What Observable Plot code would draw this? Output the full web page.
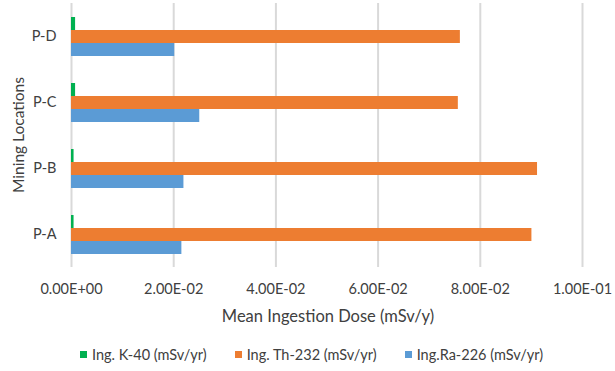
<!DOCTYPE html>
<html><head><meta charset="utf-8">
<script src="https://cdn.jsdelivr.net/npm/d3@7"></script>
<script src="https://cdn.jsdelivr.net/npm/@observablehq/plot@0.6"></script>
<style>
body{margin:0;background:#fff;font-family:Lato,sans-serif;}
#legend{display:flex;justify-content:center;align-items:center;gap:28px;margin-top:14px;font-size:14.5px;color:#404040;padding-left:8px;}
#legend .item{display:flex;align-items:center;gap:5px;}
#legend .sw{width:7px;height:7px;display:inline-block;}
</style></head><body><div id="chart"></div><div id="legend"></div><script>
const locations = ["P-D","P-C","P-B","P-A"];
const series = ["Ing. K-40 (mSv/yr)","Ing. Th-232 (mSv/yr)","Ing.Ra-226 (mSv/yr)"];
const k40 = [0.0008,0.0008,0.0005,0.0005];
const th232 = [0.0761,0.0757,0.0912,0.0901];
const ra226 = [0.0202,0.0251,0.0220,0.0216];
const colors = ["#00B050","#ED7D31","#5B9BD5"];
const xTicks = [0,0.02,0.04,0.06,0.08,0.10];
const xTitle = "Mean Ingestion Dose (mSv/y)";
const yTitle = "Mining Locations";

const values = [k40, th232, ra226];
const rows = [];
locations.forEach((loc,i)=>series.forEach((s,j)=>rows.push({location:loc, series:s, value:values[j][i]})));

function fmt(d){
  const [m,e] = d.toExponential(2).split("e");
  const sign = e[0]==="-" ? "-" : "+";
  const digits = e.replace(/[+-]/,"").padStart(2,"0");
  return m + "E" + sign + digits;
}

const chart = Plot.plot({
  width:615, height:332,
  marginLeft:71, marginRight:33, marginTop:2, marginBottom:65,
  style:{fontFamily:"Lato, sans-serif", fontSize:"14.5px", color:"#404040", background:"#fff"},
  x:{domain:[0,0.1], ticks:xTicks, tickFormat:fmt, tickSize:0, tickPadding:16, label:null},
  y:{domain:series, axis:null, paddingInner:0.03, paddingOuter:0.95},
  fy:{domain:locations, padding:0, label:null, tickSize:0, tickPadding:15},
  color:{domain:series, range:colors},
  marks:[
    Plot.ruleX(xTicks, {stroke:"#d9d9d9", strokeWidth:2}),
    Plot.barX(rows, {x:"value", y:"series", fy:"location", fill:"series"})
  ]
});
document.getElementById("chart").appendChild(chart);

// axis titles as SVG text
const svg = d3.select(chart);
svg.append("text").attr("x", 328).attr("y", 318).attr("text-anchor","middle").attr("dominant-baseline","middle")
  .attr("font-size","16.5px").attr("fill","#404040").text(xTitle);
svg.append("text").attr("transform","translate(20,135) rotate(-90)").attr("text-anchor","middle").attr("dominant-baseline","middle")
  .attr("font-size","15.5px").attr("fill","#404040").text(yTitle);

const leg = document.getElementById("legend");
series.forEach((s,j)=>{
  const it = document.createElement("div"); it.className="item";
  const sw = document.createElement("span"); sw.className="sw"; sw.style.background=colors[j];
  const t = document.createElement("span"); t.textContent=s;
  it.appendChild(sw); it.appendChild(t); leg.appendChild(it);
});
</script></body></html>
